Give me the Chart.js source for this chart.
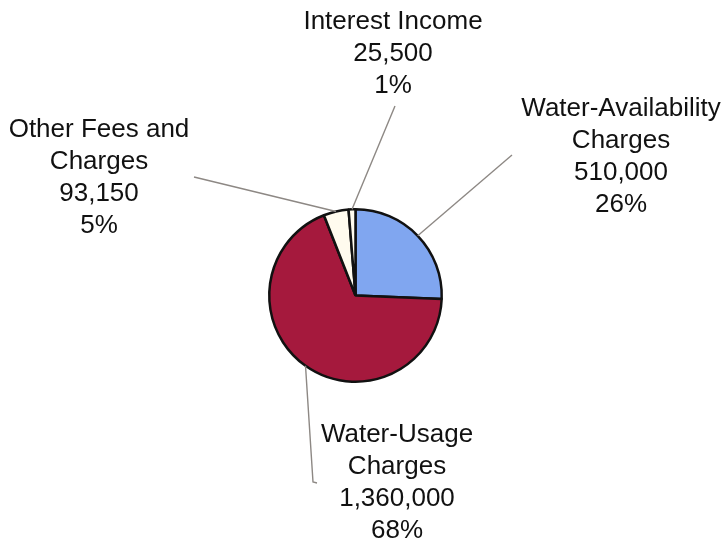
<!DOCTYPE html>
<html>
<head>
<meta charset="utf-8">
<script src="https://cdn.jsdelivr.net/npm/chart.js@4"></script>
<style>
  html, body { margin: 0; padding: 0; background: #fff; }
  canvas { display: block; }
</style>
</head>
<body>
<canvas id="revChart" width="721" height="546"></canvas>
<script>
  // Revenue sources, in drawing order (clockwise from 12 o'clock)
  const sourceNames = [
    ['Water-Availability', 'Charges'],
    ['Water-Usage', 'Charges'],
    ['Other Fees and', 'Charges'],
    ['Interest Income']
  ];
  const amounts = [510000, 1360000, 93150, 25500];
  const sliceColors = ['#80a6f0', '#a5193d', '#fffbee', '#fffbee'];

  // where each callout sits: end of the leader line and centre of the text block
  const callouts = [
    { lineTo: [512, 155], textX: 621, firstLine: 107 },
    { lineTo: [313, 482], textX: 397, firstLine: 433, tick: [317, 483] },
    { lineTo: [194, 177], textX: 99, firstLine: 128 },
    { lineTo: [395, 106], textX: 393, firstLine: 20 }
  ];

  const total = amounts.reduce((a, b) => a + b, 0);
  const fmt = n => n.toLocaleString('en-US');

  const calloutPlugin = {
    id: 'callouts',
    afterDatasetsDraw(chart) {
      const ctx = chart.ctx;
      const arcs = chart.getDatasetMeta(0).data;
      ctx.save();
      arcs.forEach((arc, i) => {
        const p = arc.getProps(['x', 'y', 'startAngle', 'endAngle', 'outerRadius'], true);
        const mid = (p.startAngle + p.endAngle) / 2;
        const ax = p.x + Math.cos(mid) * p.outerRadius;
        const ay = p.y + Math.sin(mid) * p.outerRadius;
        const c = callouts[i];

        ctx.strokeStyle = '#8d8884';
        ctx.lineWidth = 1.4;
        ctx.beginPath();
        ctx.moveTo(ax, ay);
        ctx.lineTo(c.lineTo[0], c.lineTo[1]);
        if (c.tick) ctx.lineTo(c.tick[0], c.tick[1]);
        ctx.stroke();

        const lines = sourceNames[i].concat([fmt(amounts[i]), Math.round(amounts[i] / total * 100) + '%']);
        ctx.fillStyle = '#111';
        ctx.font = '26px "Liberation Sans", Arial, sans-serif';
        ctx.textAlign = 'center';
        ctx.textBaseline = 'alphabetic';
        lines.forEach((t, k) => {
          ctx.fillText(t, c.textX, c.firstLine + 9 + k * 32);
        });
      });
      ctx.restore();
    }
  };

  const ctx = document.getElementById('revChart').getContext('2d');
  new Chart(ctx, {
    type: 'pie',
    data: {
      labels: sourceNames.map(n => n.join(' ')),
      datasets: [{
        data: amounts,
        backgroundColor: sliceColors,
        borderColor: '#111',
        borderWidth: 2.5
      }]
    },
    options: {
      responsive: false,
      animation: false,
      layout: {
        padding: { left: 268, right: 278, top: 208, bottom: 163 }
      },
      plugins: {
        legend: { display: false },
        tooltip: { enabled: false }
      }
    },
    plugins: [calloutPlugin]
  });
</script>
</body>
</html>
